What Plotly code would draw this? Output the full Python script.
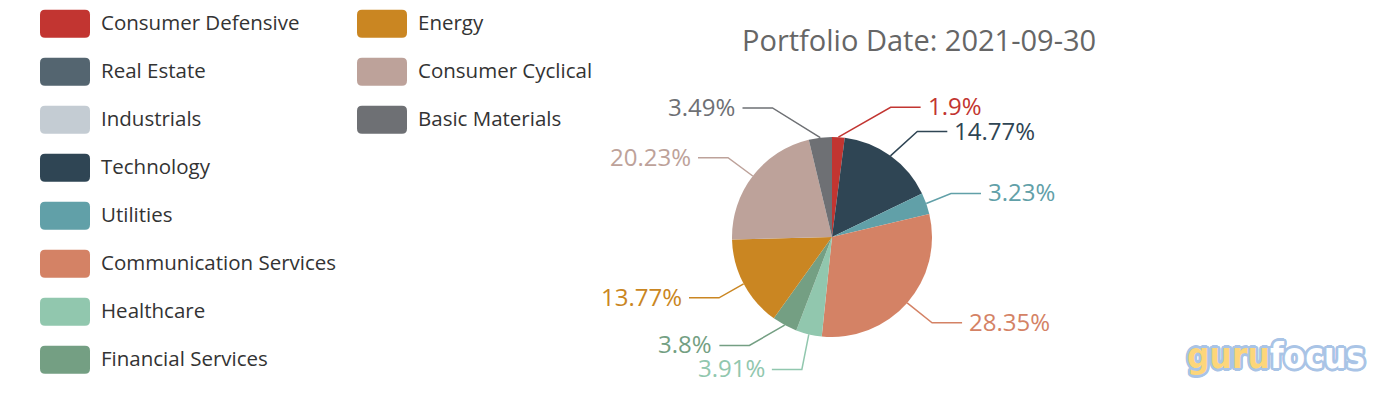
import math
import plotly.graph_objects as go

# ---------------- data ----------------
sectors = ["Consumer Defensive", "Real Estate", "Industrials", "Technology", "Utilities",
           "Communication Services", "Healthcare", "Financial Services", "Energy",
           "Consumer Cyclical", "Basic Materials"]
weights = [1.9, 0, 0, 14.77, 3.23, 28.35, 3.91, 3.8, 13.77, 20.23, 3.49]
colors = ["#c23531", "#546570", "#c4ccd3", "#2f4554", "#61a0a8", "#d48265",
          "#91c7ae", "#749f83", "#ca8622", "#bda29a", "#6e7074"]
title_text = "Portfolio Date: 2021-09-30"
logo_parts = ["guru", "focus"]

# ---------------- layout constants (pixels) ----------------
W, H = 1388, 396
CX, CY, R = 832, 237, 100
LEN, LEN2, LDIST, LBL_H = 30, 30, 5, 24
FONT = "Open Sans, Noto Sans, sans-serif"
TXT_UP = 2  # small vertical nudge for text baseline

fig = go.Figure()

# pie
fig.add_trace(go.Pie(
    labels=sectors, values=weights, sort=False, direction="clockwise", rotation=0,
    marker=dict(colors=colors, line=dict(width=0)), textinfo="none",
    hoverinfo="skip", showlegend=False,
    domain=dict(x=[(CX - R) / W, (CX + R) / W], y=[1 - (CY + R) / H, 1 - (CY - R) / H]),
))

# ---------------- outside labels (echarts-like layout) ----------------
total = sum(weights)
labels = []
acc = 0.0
for name, w, col in zip(sectors, weights, colors):
    if w <= 0:
        continue
    mid = (acc + w / 2) / total * 2 * math.pi
    acc += w
    dx, dy = math.sin(mid), -math.cos(mid)
    x1, y1 = CX + R * dx, CY + R * dy
    x2, y2 = CX + (R + LEN) * dx, CY + (R + LEN) * dy
    s = -1 if dx < 0 else 1
    x3 = x2 + s * LEN2
    labels.append(dict(text=f"{w}%", color=col, x=x3 + s * LDIST, y=y2, p0=(x1, y1)))


def adjust_side(lst, d):
    lst.sort(key=lambda it: it["y"])
    n = len(lst)

    def shift_up(end, delta):
        for j in range(end, -1, -1):
            if lst[j]["y"] - delta < 0:
                break
            lst[j]["y"] -= delta
            if j > 0 and lst[j]["y"] > lst[j - 1]["y"] + LBL_H:
                break

    def shift_down(start, end, delta):
        for j in range(start, end):
            if lst[j]["y"] + delta > H:
                break
            lst[j]["y"] += delta
            if j > start and j + 1 < end and lst[j + 1]["y"] > lst[j]["y"] + LBL_H:
                shift_up(j, delta / 2)
                return
        shift_up(end - 1, delta / 2)

    last_y = 0
    for i in range(n):
        delta = lst[i]["y"] - last_y
        if delta < 0:
            shift_down(i, n, -delta)
        last_y = lst[i]["y"] + LBL_H
    if H - last_y < 0:
        shift_up(n - 1, last_y - H)
    up = [it for it in lst if it["y"] < CY]
    down = [it for it in lst if it["y"] >= CY]
    for group, is_down in ((up, False), (down, True)):
        last_dx = float("inf") if is_down else 0
        for it in group:
            ddy = abs(it["y"] - CY)
            if ddy < R + LEN:
                ddx = math.sqrt((R + LEN + LEN2) ** 2 - ddy ** 2)
            else:
                ddx = abs(it["x"] - CX)
            if is_down and ddx >= last_dx:
                ddx = last_dx - 10
            if not is_down and ddx <= last_dx:
                ddx = last_dx + 10
            it["x"] = CX + ddx * d
            last_dx = ddx


adjust_side([l for l in labels if l["x"] >= CX], 1)
adjust_side([l for l in labels if l["x"] < CX], -1)

annotations = []
shapes = []
for it in labels:
    s = -1 if it["x"] < CX else 1
    end_x = it["x"] - s * LDIST
    elbow_x = end_x - s * LEN2
    fig.add_trace(go.Scatter(
        x=[it["p0"][0], elbow_x, end_x], y=[it["p0"][1], it["y"], it["y"]],
        mode="lines", line=dict(color=it["color"], width=1.5),
        hoverinfo="skip", showlegend=False,
    ))
    annotations.append(dict(
        x=it["x"], y=it["y"], xref="x", yref="y", text=it["text"], showarrow=False,
        xanchor="left" if s > 0 else "right", yanchor="middle", yshift=TXT_UP,
        height=LBL_H, valign="middle",
        font=dict(family=FONT, size=24, color=it["color"]),
    ))

# ---------------- legend (two columns) ----------------
LEG_X0, LEG_Y0, LEG_DY, LEG_COLW, ROWS = 40, 23.7, 48, 317, 8
MW, MH, MR = 50, 28, 5


def rounded_rect(x0, y0, x1, y1, r):
    return (f"M {x0 + r},{y0} L {x1 - r},{y0} Q {x1},{y0} {x1},{y0 + r} "
            f"L {x1},{y1 - r} Q {x1},{y1} {x1 - r},{y1} L {x0 + r},{y1} "
            f"Q {x0},{y1} {x0},{y1 - r} L {x0},{y0 + r} Q {x0},{y0} {x0 + r},{y0} Z")


for i, (name, col) in enumerate(zip(sectors, colors)):
    c, r = divmod(i, ROWS)
    x0 = LEG_X0 + c * LEG_COLW
    yc = LEG_Y0 + r * LEG_DY
    shapes.append(dict(type="path", xref="x", yref="y",
                       path=rounded_rect(x0, yc - MH / 2, x0 + MW, yc + MH / 2, MR),
                       fillcolor=col, line=dict(width=0)))
    annotations.append(dict(x=x0 + MW + 9, y=yc, xref="x", yref="y", text=name,
                            showarrow=False, xanchor="left", yanchor="middle", yshift=TXT_UP,
                            font=dict(family=FONT, size=20.5, color="#333333")))

# ---------------- title ----------------
annotations.append(dict(x=919, y=40, xref="x", yref="y", text=title_text, showarrow=False,
                        xanchor="center", yanchor="middle", yshift=1,
                        font=dict(family=FONT, size=29, color="#666666")))

# ---------------- watermark ----------------
LOGO_FONT = "Liberation Sans Narrow, DejaVu Sans Condensed, sans-serif"
outline = ", ".join(
    f"{2.6 * math.cos(2 * math.pi * k / 16):.2f}px {2.6 * math.sin(2 * math.pi * k / 16):.2f}px 0 #a9c4e6"
    for k in range(16))
annotations.append(dict(x=1276, y=356, xref="x", yref="y",
                        text=f'<span style="color:#fdd67a">{logo_parts[0]}</span>'
                             f'<span style="color:#ffffff">{logo_parts[1]}</span>',
                        showarrow=False, xanchor="center", yanchor="middle",
                        font=dict(family=LOGO_FONT, size=35, weight="bold", shadow=outline)))

fig.update_layout(
    width=W, height=H, margin=dict(l=0, r=0, t=0, b=0),
    paper_bgcolor="#ffffff", plot_bgcolor="rgba(0,0,0,0)",
    xaxis=dict(range=[0, W], visible=False, fixedrange=True),
    yaxis=dict(range=[H, 0], visible=False, fixedrange=True),
    shapes=shapes, annotations=annotations, showlegend=False,
)

fig.write_html("out.html", config={"displayModeBar": False},
               post_script="document.body.style.margin='0';")
